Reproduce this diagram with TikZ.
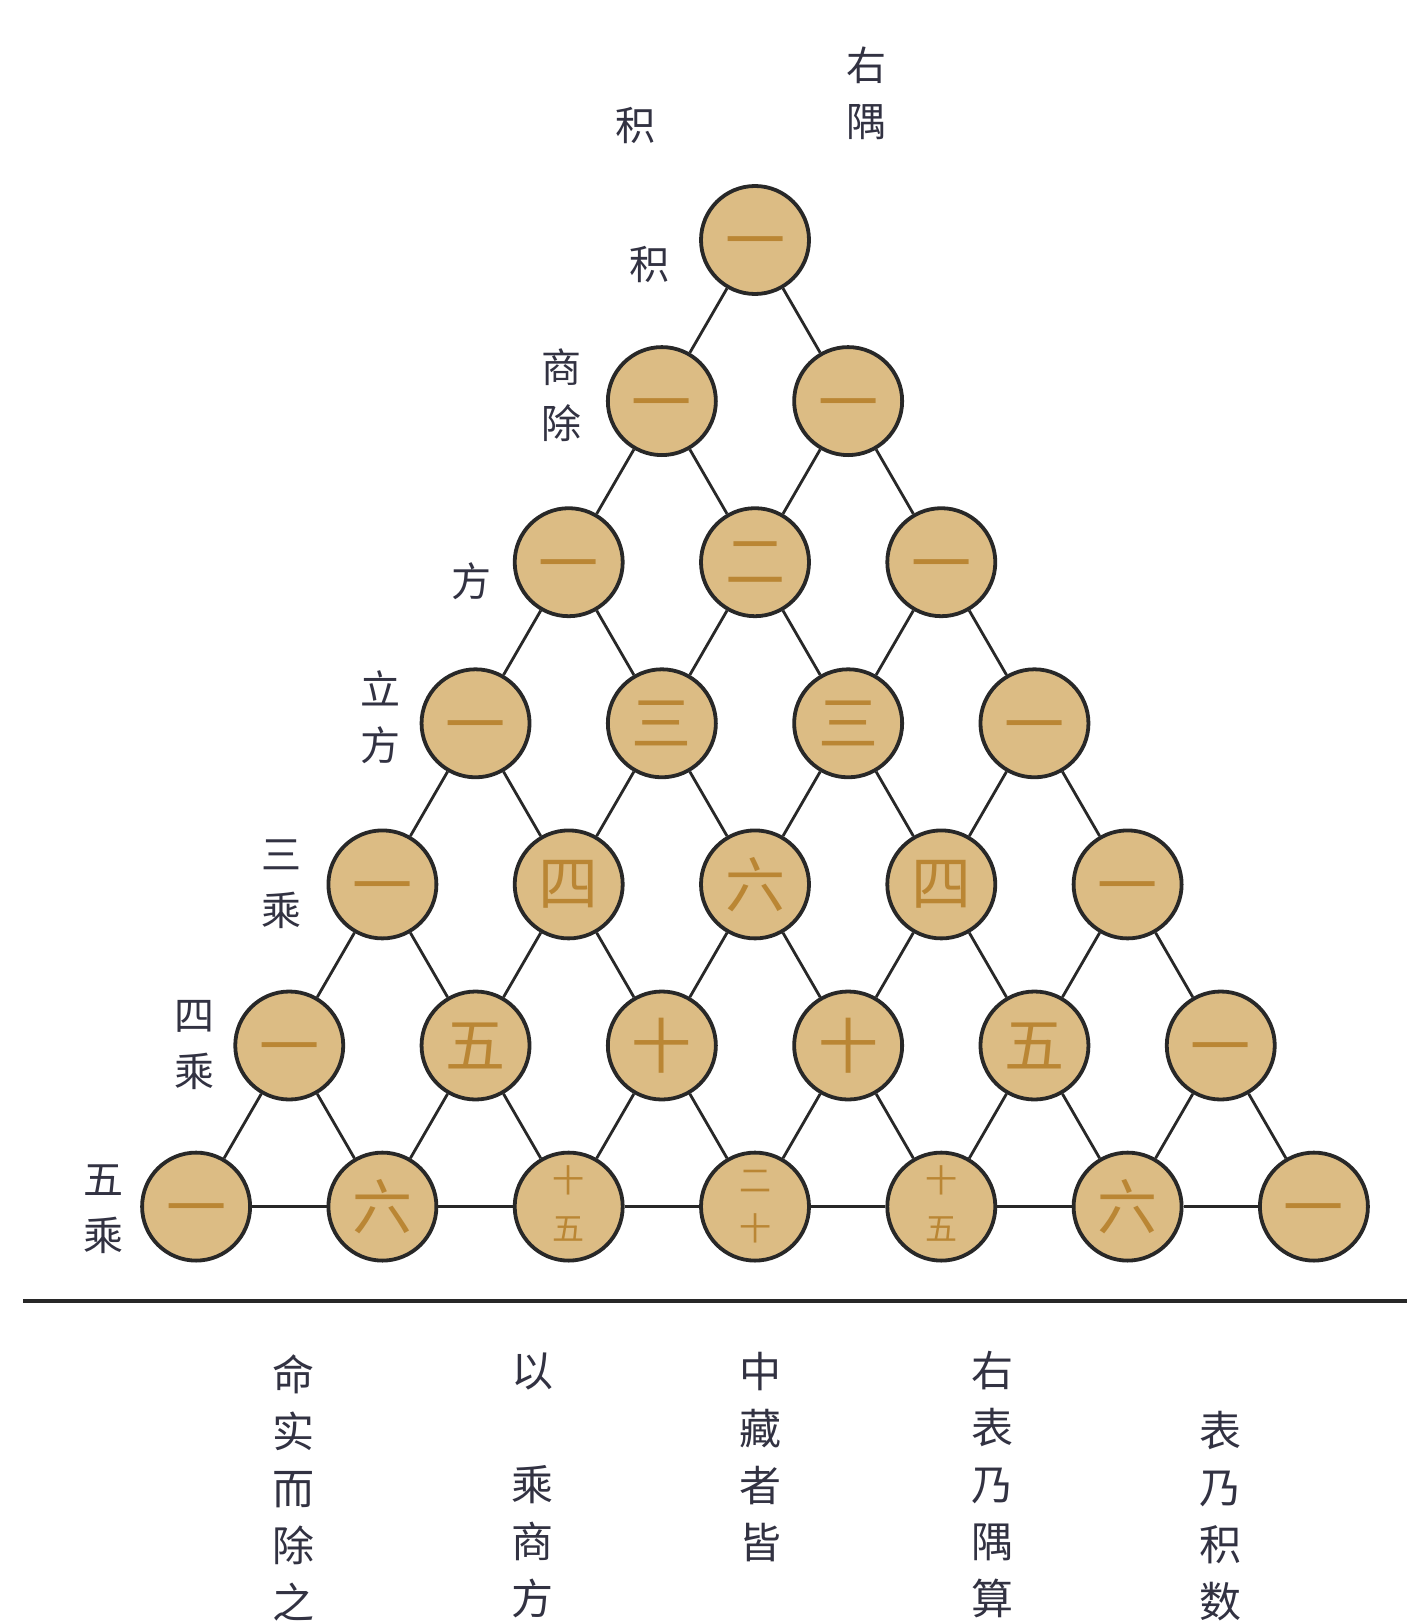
\documentclass[tikz,border=0pt]{standalone}
\usepackage{fontspec}
\setmainfont{Noto Sans CJK SC}
\definecolor{tanfill}{RGB}{220,188,132}
\definecolor{numc}{RGB}{186,134,52}
\definecolor{labc}{RGB}{50,50,66}
\definecolor{edgec}{RGB}{40,40,40}
\newcommand\tc[2]{{\fontsize{16}{24}\selectfont\begin{tabular}{@{}c@{}}#1\\#2\end{tabular}}}
\newcommand\yi{\raisebox{-11.5pt}[0pt][0pt]{一}}
\begin{document}
\begin{tikzpicture}[x=0.5pt,y=-0.5pt,
  cell/.style={circle,draw=edgec,line width=1.9pt,fill=tanfill,minimum size=54pt,inner sep=0pt,text=numc,font=\fontsize{30}{30}\selectfont},
  lab/.style={text=labc,font=\fontsize{20}{28}\selectfont,align=center,inner sep=0pt},
  blab/.style={text=labc,font=\fontsize{21}{28.5}\selectfont,align=center,inner sep=0pt},
  conn/.style={draw=edgec,line width=1.4pt},
  rule/.style={draw=edgec,line width=1.7pt}]
\useasboundingbox (0,0) rectangle (1407,1621);
\fill[white] (0,0) rectangle (1407,1621);
% nodes of the triangle
\foreach \r/\k/\t in {0/0/\yi,
  1/0/\yi,1/1/\yi,
  2/0/\yi,2/1/二,2/2/\yi,
  3/0/\yi,3/1/三,3/2/三,3/3/\yi,
  4/0/\yi,4/1/四,4/2/六,4/3/四,4/4/\yi,
  5/0/\yi,5/1/五,5/2/十,5/3/十,5/4/五,5/5/\yi,
  6/0/\yi,6/1/六,6/2/{\tc{十}{五}},6/3/{\tc{二}{十}},6/4/{\tc{十}{五}},6/5/六,6/6/\yi}{
  \node[cell] (n\r\k) at ({755+(\k-\r/2)*186.3},{240+\r*161.1}) {\t};
}
% connectors
\foreach \r in {0,...,5}{
  \pgfmathtruncatemacro\rr{\r+1}
  \foreach \k in {0,...,\r}{
    \pgfmathtruncatemacro\kk{\k+1}
    \draw[conn] (n\r\k) -- (n\rr\k);
    \draw[conn] (n\r\k) -- (n\rr\kk);
  }
}
\foreach \k in {0,...,5}{
  \pgfmathtruncatemacro\kk{\k+1}
  \draw[conn] (n6\k) -- (n6\kk);
}
% top labels
\node[lab] (t1) at (635,126) {积};
\node[lab] (t2) at (866,93) {右\\隅};
% left labels
\node[lab] (l0) at (649,264) {积};
\node[lab] (l1) at (561,395) {商\\除};
\node[lab] (l2) at (471,581) {方};
\node[lab] (l3) at (380,717) {立\\方};
\node[lab] (l4) at (281,884) {三\\乘};
\node[lab] (l5) at (194,1045) {四\\乘};
\node[lab] (l6) at (103,1209) {五\\乘};
% rule
\coordinate (hl) at (23,1301);
\coordinate (hr) at (1407,1301);
\draw[rule] (hl) -- (hr);
% bottom columns
\node[blab] (b1) at (293,1488) {命\\实\\而\\除\\之};
\node[blab] (b2) at (532,1485) {以\\\phantom{乘}\\乘\\商\\方};
\node[blab] (b3) at (760,1457) {中\\藏\\者\\皆};
\node[blab] (b4) at (992,1485) {右\\表\\乃\\隅\\算};
\node[blab] (b5) at (1220,1516) {表\\乃\\积\\数};
\end{tikzpicture}
\end{document}
